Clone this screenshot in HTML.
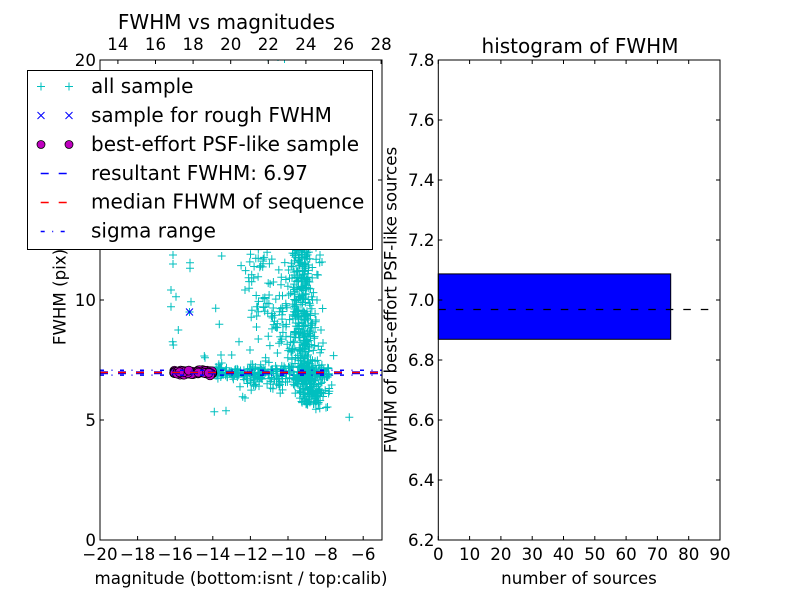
<!DOCTYPE html>
<html>
<head>
<meta charset="utf-8">
<style>
html,body{margin:0;padding:0;background:#fff;}
svg{display:block;}
text{font-family:"DejaVu Sans","Liberation Sans",sans-serif;fill:#000;}
.t{font-size:16.67px;}
.L{font-size:20px;}
</style>
</head>
<body>
<svg id="s" width="800" height="600" viewBox="0 0 800 600" xmlns="http://www.w3.org/2000/svg">
<defs>
<clipPath id="cl"><rect x="100" y="60" width="282" height="480"/></clipPath>
<clipPath id="cr"><rect x="438.3" y="60" width="281.7" height="480"/></clipPath>
</defs>
<rect width="800" height="600" fill="#fff"/>

<!-- LEFT PLOT DATA -->
<g clip-path="url(#cl)">
  <path id="cy" fill="none" stroke="#00bfbf" stroke-width="1"/>
  <path id="bx" fill="none" stroke="#0000ff" stroke-width="1" d="M186 308.5l7 7M186 315.5l7 -7"/>
  <g id="mg"></g>
  <line x1="100" y1="372.7" x2="382" y2="372.7" stroke="#0000ff" stroke-width="3" stroke-dasharray="8,10"/>
  <line x1="100" y1="372.5" x2="382" y2="372.5" stroke="#ff0000" stroke-width="1.5" stroke-dasharray="8,10"/>
  <line x1="100" y1="370.3" x2="382" y2="370.3" stroke="#0000ff" stroke-width="1.5" stroke-dasharray="4,7.5,1,7.5"/>
  <line x1="100" y1="375.1" x2="382" y2="375.1" stroke="#0000ff" stroke-width="1.5" stroke-dasharray="4,7.5,1,7.5"/>
</g>

<!-- LEFT AXES FRAME & TICKS -->
<rect x="100" y="60" width="282" height="480" fill="none" stroke="#000" stroke-width="1"/>
<path fill="none" stroke="#000" stroke-width="1" d="
M100 540v-4M137.6 540v-4M175.2 540v-4M212.8 540v-4M250.4 540v-4M288 540v-4M325.6 540v-4M363.2 540v-4
M117.9 60v4M155.5 60v4M193.1 60v4M230.7 60v4M268.3 60v4M305.9 60v4M343.5 60v4M381.1 60v4
M100 540h4M100 420h4M100 300h4M100 180h4M100 60h4
M382 540h-4M382 420h-4M382 300h-4M382 180h-4M382 60h-4"/>

<g class="t" text-anchor="middle">
  <text x="100" y="560">−20</text>
  <text x="137.6" y="560">−18</text>
  <text x="175.2" y="560">−16</text>
  <text x="212.8" y="560">−14</text>
  <text x="250.4" y="560">−12</text>
  <text x="288" y="560">−10</text>
  <text x="325.6" y="560">−8</text>
  <text x="363.2" y="560">−6</text>
  <text x="117.9" y="50">14</text>
  <text x="155.5" y="50">16</text>
  <text x="193.1" y="50">18</text>
  <text x="230.7" y="50">20</text>
  <text x="268.3" y="50">22</text>
  <text x="305.9" y="50">24</text>
  <text x="343.5" y="50">26</text>
  <text x="381.1" y="50">28</text>
</g>
<g class="t" text-anchor="end">
  <text x="96" y="546">0</text>
  <text x="96" y="426">5</text>
  <text x="96" y="306">10</text>
  <text x="96" y="186">15</text>
  <text x="96" y="66">20</text>
</g>
<text class="t" x="241" y="584" text-anchor="middle">magnitude (bottom:isnt / top:calib)</text>
<text class="t" text-anchor="middle" transform="translate(65.5,297) rotate(-90)">FWHM (pix)</text>
<text class="L" x="226.5" y="29" text-anchor="middle">FWHM vs magnitudes</text>

<!-- LEGEND -->
<rect x="27.5" y="70.5" width="345" height="179" fill="#fff" stroke="#000" stroke-width="1"/>
<path fill="none" stroke="#00bfbf" stroke-width="1" d="M37 86.5h8M41 82.5v8M65 86.5h8M69 82.5v8"/>
<path fill="none" stroke="#0000ff" stroke-width="1" d="M37.5 112l7 7M37.5 119l7 -7M65.5 112l7 7M65.5 119l7 -7"/>
<circle cx="41" cy="144.5" r="4" fill="#bf00bf" stroke="#000" stroke-width="0.8"/>
<circle cx="69" cy="144.5" r="4" fill="#bf00bf" stroke="#000" stroke-width="0.8"/>
<line x1="40.7" y1="173.5" x2="69" y2="173.5" stroke="#0000ff" stroke-width="1.5" stroke-dasharray="8,10"/>
<line x1="40.7" y1="202.5" x2="69" y2="202.5" stroke="#ff0000" stroke-width="1.5" stroke-dasharray="8,10"/>
<line x1="40.7" y1="231.5" x2="69" y2="231.5" stroke="#0000ff" stroke-width="1.5" stroke-dasharray="4,7.5,1,7.5"/>
<g class="L">
  <text x="91" y="93">all sample</text>
  <text x="91" y="122">sample for rough FWHM</text>
  <text x="91" y="151">best-effort PSF-like sample</text>
  <text x="91" y="180">resultant FWHM: 6.97</text>
  <text x="91" y="208.5">median FHWM of sequence</text>
  <text x="91" y="237.5">sigma range</text>
</g>

<!-- RIGHT PLOT -->
<rect x="438.3" y="273.9" width="232.4" height="65.4" fill="#0000ff" stroke="#000" stroke-width="1"/>
<g clip-path="url(#cr)">
<line x1="438.3" y1="309.5" x2="714" y2="309.5" stroke="#000" stroke-width="1.2" stroke-dasharray="7.5,10"/>
</g>
<rect x="438.3" y="60" width="281.7" height="480" fill="none" stroke="#000" stroke-width="1"/>
<path fill="none" stroke="#000" stroke-width="1" d="
M438.3 540v-4M469.6 540v-4M500.9 540v-4M532.2 540v-4M563.5 540v-4M594.8 540v-4M626.1 540v-4M657.4 540v-4M688.7 540v-4M720 540v-4
M438.3 60v4M469.6 60v4M500.9 60v4M532.2 60v4M563.5 60v4M594.8 60v4M626.1 60v4M657.4 60v4M688.7 60v4M720 60v4
M438.3 540h4M438.3 480h4M438.3 420h4M438.3 360h4M438.3 300h4M438.3 240h4M438.3 180h4M438.3 120h4M438.3 60h4
M720 540h-4M720 480h-4M720 420h-4M720 360h-4M720 300h-4M720 240h-4M720 180h-4M720 120h-4M720 60h-4"/>
<g class="t" text-anchor="middle">
  <text x="438.3" y="560">0</text>
  <text x="469.6" y="560">10</text>
  <text x="500.9" y="560">20</text>
  <text x="532.2" y="560">30</text>
  <text x="563.5" y="560">40</text>
  <text x="594.8" y="560">50</text>
  <text x="626.1" y="560">60</text>
  <text x="657.4" y="560">70</text>
  <text x="688.7" y="560">80</text>
  <text x="720" y="560">90</text>
</g>
<g class="t" text-anchor="end">
  <text x="434.5" y="546">6.2</text>
  <text x="434.5" y="486">6.4</text>
  <text x="434.5" y="426">6.6</text>
  <text x="434.5" y="366">6.8</text>
  <text x="434.5" y="306">7.0</text>
  <text x="434.5" y="246">7.2</text>
  <text x="434.5" y="186">7.4</text>
  <text x="434.5" y="126">7.6</text>
  <text x="434.5" y="66">7.8</text>
</g>
<text class="t" x="579" y="584" text-anchor="middle">number of sources</text>
<text class="t" text-anchor="middle" transform="translate(396.5,300) rotate(-90)">FWHM of best-effort PSF-like sources</text>
<text class="L" x="580" y="53" text-anchor="middle">histogram of FWHM</text>
</svg>

<script>
(function(){
  var seed = 987654321;
  function r(){ seed|=0; seed=seed+0x6D2B79F5|0; var t=Math.imul(seed^seed>>>15,1|seed); t=t+Math.imul(t^t>>>7,61|t)^t; return ((t^t>>>14)>>>0)/4294967296; }
  function g(){ var u=r()||1e-9, v=r(); return Math.sqrt(-2*Math.log(u))*Math.cos(2*Math.PI*v); }
  var d = "";
  function p(x,y){ d += "M"+(x-4).toFixed(1)+" "+y.toFixed(1)+"h8M"+x.toFixed(1)+" "+(y-4).toFixed(1)+"v8"; }
  var i, x, y, s, t, c;
  // horizontal band
  for(i=0;i<320;i++){
    x = 215 + r()*115;
    s = x<250 ? 3 : (x<322 ? 5.5 : 3);
    y = 373 + g()*s;
    if(x>245 && x<322 && r()<0.35) y += Math.abs(g())*7;
    p(x,y);
  }
  // dense vertical column core
  for(i=0;i<260;i++){
    y = 245 + r()*150;
    c = 302 + Math.max(0,y-310)*0.1;
    x = c + g()*5.5;
    p(x,y);
  }
  // column wider spread
  for(i=0;i<150;i++){
    y = 245 + r()*150;
    c = 301 + Math.max(0,y-310)*0.1;
    x = c + g()*10;
    p(x,y);
  }
  // bottom blob of column
  for(i=0;i<55;i++){
    x = 313 + g()*6.5;
    y = 396 + g()*5;
    if(y>410) y = 410 - r()*4;
    p(x,y);
  }
  // arc
  for(i=0;i<100;i++){
    t = r();
    x = 252 + t*33 + g()*10;
    y = 250 + t*110 + g()*11;
    if(x>240) p(x,y);
  }
  var man = [[173,255],[173,264],[190,262.7],[190,268.3],[221.7,256],[171,290],[176,296.7],[171,306.7],[191,301.7],[215.7,308.3],[219.3,324.3],[178.3,330],[172.7,341.7],[173.3,345],[204.3,356],[240,386.7],[242.7,396.7],[245,398],[214.3,411.7],[226,410.7],[349.3,417.3],[331.7,385],[239,341.7],[221,355],[231.7,355],[221.7,363],[258.3,339],[250,350],[268,57.5],[278,57],[284.5,59],[189.5,312],[205,357.7],[318,275],[323,343],[321,330],[317,300],[245,290],[251.7,281.7],[258.3,311.7],[263,298],[320,255],[322,262],[316,320]];
  for(i=0;i<man.length;i++) p(man[i][0], man[i][1]);
  document.getElementById("cy").setAttribute("d", d);
  // magenta circles
  var ns = "http://www.w3.org/2000/svg", mg = document.getElementById("mg");
  for(i=0;i<74;i++){
    var ci = document.createElementNS(ns,"circle");
    ci.setAttribute("cx", (173 + r()*40).toFixed(1));
    ci.setAttribute("cy", (372.3 + g()*1.0).toFixed(1));
    ci.setAttribute("r", "4.5");
    ci.setAttribute("fill", "#bf00bf");
    ci.setAttribute("stroke", "#000");
    ci.setAttribute("stroke-width", "0.7");
    mg.appendChild(ci);
  }
})();
</script>
</body>
</html>
